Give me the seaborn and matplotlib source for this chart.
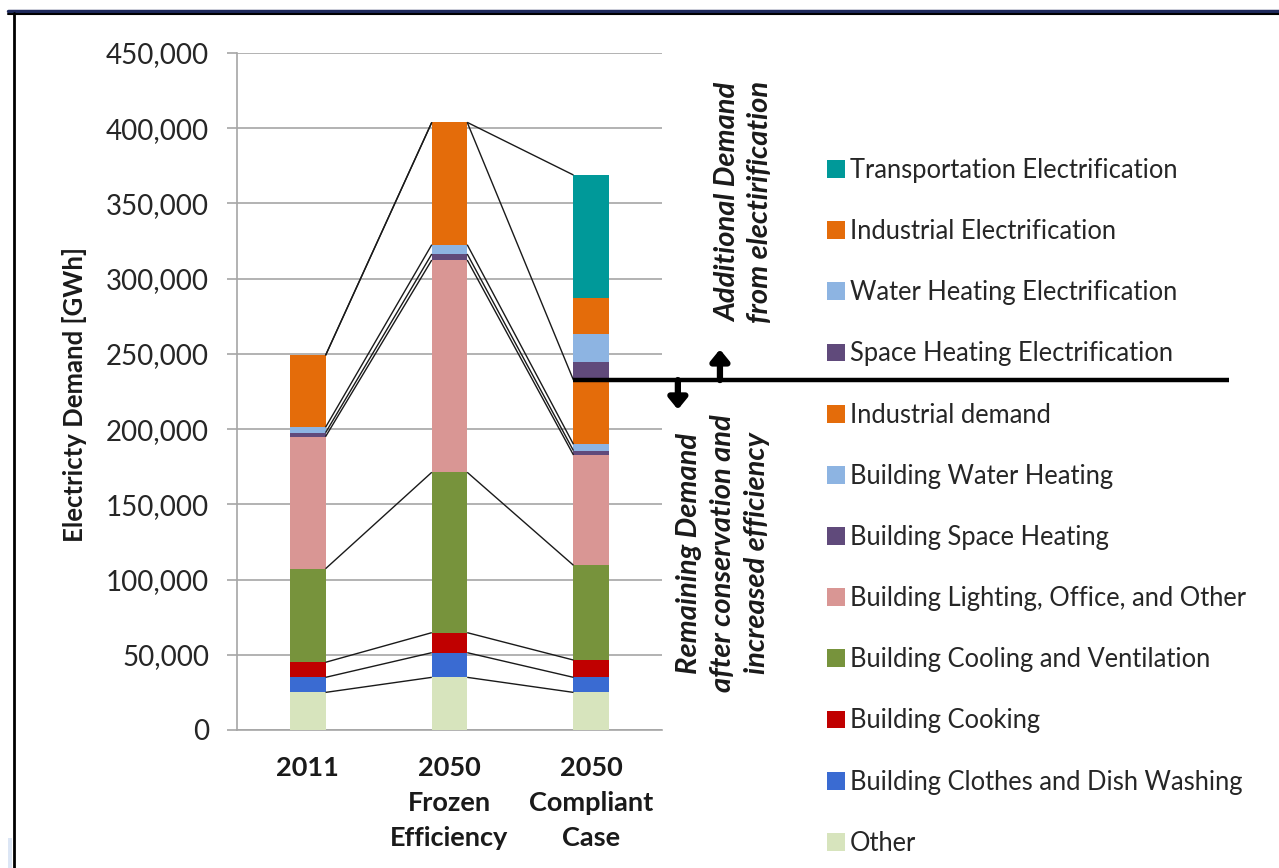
import numpy as np
import pandas as pd
import matplotlib
matplotlib.use("Agg")
import matplotlib.pyplot as plt
from matplotlib.patches import Patch, Rectangle
from matplotlib.lines import Line2D
import seaborn as sns

# ---------------- data ----------------
categories = ["2011", "2050\nFrozen\nEfficiency", "2050\nCompliant\nCase"]

# stacked from bottom to top
series_names = [
    "Other",
    "Building Clothes and Dish Washing",
    "Building Cooking",
    "Building Cooling and Ventilation",
    "Building Lighting, Office, and Other",
    "Building Space Heating",
    "Building Water Heating",
    "Industrial demand",
    "Space Heating Electrification",
    "Water Heating Electrification",
    "Industrial Electrification",
    "Transportation Electrification",
]
other = [25000, 35000, 25000]
clothes_dish = [10000, 16400, 10000]
cooking = [10000, 13300, 11500]
cooling_vent = [62200, 106600, 63000]
lighting_office = [87800, 141100, 73300]
space_heating = [2600, 4000, 2900]
water_heating = [3600, 6200, 4200]
industrial = [47800, 81300, 42700]
space_heat_elec = [0, 0, 12200]
water_heat_elec = [0, 0, 18400]
industrial_elec = [0, 0, 24200]
transport_elec = [0, 0, 81500]

series_values = [other, clothes_dish, cooking, cooling_vent, lighting_office,
                 space_heating, water_heating, industrial, space_heat_elec,
                 water_heat_elec, industrial_elec, transport_elec]
series_colors = ["#D7E4BD", "#3A6BD2", "#C00000", "#77933C", "#D99694",
                 "#604A7B", "#8DB4E2", "#E46C0A", "#604A7B", "#8DB4E2",
                 "#E46C0A", "#009999"]
n_base = 8  # series that exist in all three cases (series lines drawn)

y_ticks = [0, 50000, 100000, 150000, 200000, 250000, 300000, 350000, 400000, 450000]

# ---------------- figure ----------------
sns.set_theme(style="white")
plt.rcParams["font.family"] = ["Lato", "DejaVu Sans"]

W, H = 1279, 868
fig = plt.figure(figsize=(W / 100, H / 100), dpi=100)
ax = fig.add_axes([237 / W, 1 - 730 / H, (662 - 237) / W, (730 - 53) / H])

vals = np.array(series_values, dtype=float)
cum = np.cumsum(vals, axis=0)

bar_w = 0.25
# draw cumulative bars from the tallest to the shortest (overlay stacking)
for i in range(len(series_names) - 1, -1, -1):
    df = pd.DataFrame({"case": categories, "value": cum[i]})
    sns.barplot(data=df, x="case", y="value", order=categories, color=series_colors[i],
                saturation=1, width=bar_w, errorbar=None, ax=ax, zorder=3,
                linewidth=0)

# series lines
line_levels = [cum[i] for i in range(n_base)] + [cum[-1]]
for lev in line_levels:
    for j in range(len(categories) - 1):
        ax.plot([j + bar_w / 2, j + 1 - bar_w / 2], [lev[j], lev[j + 1]],
                color="#1a1a1a", lw=1.0, zorder=4, solid_capstyle="butt")

ax.set_xlim(-0.5, 2.5)
ax.set_ylim(0, 450000)
ax.set_yticks(y_ticks)
ax.set_yticklabels([f"{v:,.0f}" for v in y_ticks])
ax.grid(axis="y", color="#A6A6A6", lw=1.2, zorder=0)
ax.grid(axis="x", visible=False)
ax.set_axisbelow(True)
for s in ["top", "right"]:
    ax.spines[s].set_visible(False)
for s in ["left", "bottom"]:
    ax.spines[s].set_color("#A6A6A6")
    ax.spines[s].set_linewidth(1.2)
ax.tick_params(axis="y", left=True, length=7, width=1.2, color="#A6A6A6",
               labelsize=20, labelcolor="#262626", pad=13)
ax.tick_params(axis="x", bottom=False, length=0, labelsize=19.5, pad=19)
for t in ax.get_xticklabels():
    t.set_fontweight("bold")
    t.set_color("#1a1a1a")
    t.set_linespacing(1.55)
ax.set_xlabel("")
ax.set_ylabel("")

fig.text(75 / W, 1 - 395 / H, "Electricty Demand [GWh]", rotation=90,
         ha="center", va="center", fontsize=18.5, fontweight="bold", color="#1a1a1a")

# divider line between remaining and additional demand
split_val = cum[n_base - 1][2]
ax.plot([2 - bar_w / 2, 6.5], [split_val, split_val], color="black", lw=3.2,
        clip_on=False, zorder=6, solid_capstyle="butt")
ax.annotate("", xy=(2.909, 253000), xytext=(2.909, split_val),
            arrowprops=dict(arrowstyle="-|>,head_width=0.45,head_length=0.55",
                            color="black", lw=4.5, shrinkA=0, shrinkB=0),
            annotation_clip=False, zorder=6)
ax.annotate("", xy=(2.612, 213000), xytext=(2.612, split_val),
            arrowprops=dict(arrowstyle="-|>,head_width=0.45,head_length=0.55",
                            color="black", lw=4.5, shrinkA=0, shrinkB=0),
            annotation_clip=False, zorder=6)

fig.text(744 / W, 1 - 202 / H, "Additional Demand\nfrom electirification", rotation=90,
         ha="center", va="center", fontsize=21, fontweight="bold", fontstyle="italic",
         multialignment="center", linespacing=1.3, color="#1a1a1a")
fig.text(723 / W, 1 - 553 / H, "Remaining Demand\nafter conservation and\nincreased efficiency",
         rotation=90, ha="center", va="center", fontsize=21, fontweight="bold",
         fontstyle="italic", multialignment="center", linespacing=1.4, color="#1a1a1a")

# legend (top entry = last stacked series)
handles = [Patch(facecolor=series_colors[i], edgecolor="none", label=series_names[i])
           for i in range(len(series_names) - 1, -1, -1)]
fig.legend(handles=handles, loc="upper left", bbox_to_anchor=(827 / W, 1 - 158 / H),
           frameon=False, fontsize=18.4, handlelength=0.7, handleheight=0.7,
           handletextpad=0.2, labelspacing=1.415, borderpad=0, borderaxespad=0,
           labelcolor="#262626")

# page frame lines
fig.add_artist(Line2D([8 / W, 1], [1 - 10.5 / H, 1 - 10.5 / H], color="#1F2A5C", lw=2.5))
fig.add_artist(Line2D([8 / W, 1], [1 - 13.5 / H, 1 - 13.5 / H], color="black", lw=1.5))
fig.add_artist(Line2D([14 / W, 14 / W], [0, 1 - 13 / H], color="black", lw=2.0))
fig.add_artist(Rectangle((8 / W, 0), 4 / W, 30 / H, transform=fig.transFigure,
                         facecolor="#DCE6F5", edgecolor="none"))

fig.savefig("out.png", dpi=100)
